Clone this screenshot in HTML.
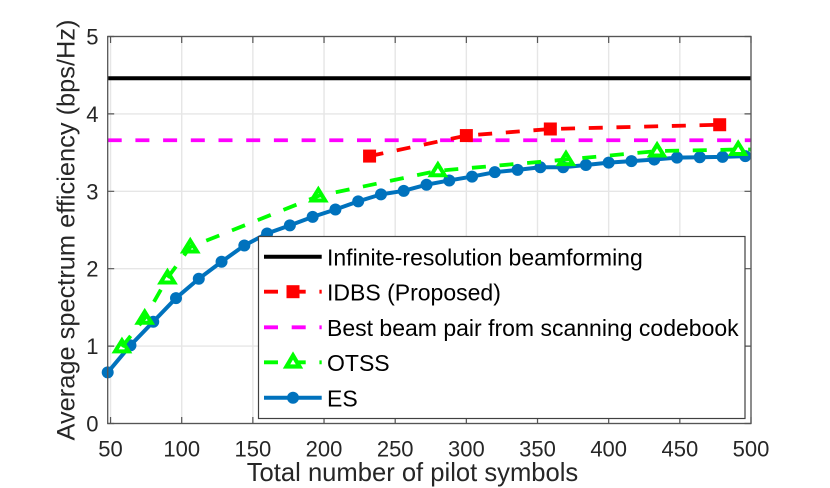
<!DOCTYPE html>
<html>
<head>
<meta charset="utf-8">
<style>
html,body{margin:0;padding:0;background:#fff;width:830px;height:488px;overflow:hidden}
svg{display:block}
text{font-family:"Liberation Sans",Arial,sans-serif;fill:#262626}
</style>
</head>
<body>
<svg id="chart" width="830" height="488" viewBox="0 0 830 488" xmlns="http://www.w3.org/2000/svg">
  <g id="grid"></g>
  <g id="series"></g>
  <g id="axes"></g>
  <text x="412.5" y="481" font-size="25.6" text-anchor="middle">Total number of pilot symbols</text>
  <text transform="translate(74.5,230) rotate(-90)" font-size="25.4" text-anchor="middle" style="fill:#262626">Average spectrum efficiency (bps/Hz)</text>
  <g>
    <rect x="258.5" y="236.5" width="486.5" height="182" fill="#fff" stroke="#404040" stroke-width="1.2"/>
    <g>
      <line x1="264" x2="321.7" y1="256.7" y2="256.7" stroke="#000" stroke-width="4"/>
      <text x="327" y="265.5" font-size="23" style="fill:#000">Infinite-resolution beamforming</text>
    </g>
    <g>
      <line x1="264" x2="321.7" y1="291.7" y2="291.7" stroke="#f00" stroke-width="3.8" stroke-dasharray="14 13.7"/>
      <rect x="286.5" y="285.2" width="13" height="13" fill="#f00"/>
      <text x="327" y="300.5" font-size="23" style="fill:#000">IDBS (Proposed)</text>
    </g>
    <g>
      <line x1="264" x2="321.7" y1="327.3" y2="327.3" stroke="#f0f" stroke-width="3.8" stroke-dasharray="14 13.7"/>
      <text x="327" y="336" font-size="23" style="fill:#000">Best beam pair from scanning codebook</text>
    </g>
    <g>
      <line x1="264" x2="321.7" y1="362.3" y2="362.3" stroke="#0f0" stroke-width="3.8" stroke-dasharray="14 13.7"/>
      <path d="M293 355.5 L299.5 366.5 L286.5 366.5 Z" fill="#fff" stroke="#0f0" stroke-width="4.2"/>
      <text x="327" y="371" font-size="23" style="fill:#000">OTSS</text>
    </g>
    <g>
      <line x1="264" x2="321.7" y1="397.7" y2="397.7" stroke="#0072bd" stroke-width="4"/>
      <circle cx="293" cy="397.7" r="6" fill="#0072bd"/>
      <text x="327" y="406.5" font-size="23" style="fill:#000">ES</text>
    </g>
  </g>
</svg>
<script>
var xTicks = [50,100,150,200,250,300,350,400,450,500];
var yTicks = [0,1,2,3,4,5];
var infiniteLevel = 4.46;
var bestBeamLevel = 3.66;
var esX = [48,64,80,96,112,128,144,160,176,192,208,224,240,256,272,288,304,320,336,352,368,384,400,416,432,448,464,480,496];
var esY = [0.66,1.01,1.315,1.62,1.87,2.09,2.30,2.455,2.56,2.67,2.765,2.87,2.96,3.006,3.085,3.14,3.19,3.247,3.277,3.31,3.31,3.34,3.37,3.39,3.41,3.435,3.44,3.445,3.455];
var idbsX = [232,300,359,478];
var idbsY = [3.455,3.72,3.805,3.86];
var otssX = [58,74,90,106,196,280,370,434,491];
var otssY = [0.99,1.36,1.88,2.28,2.94,3.265,3.41,3.52,3.54];
var xDomain = [48,500];
var yDomain = [0,5];

var NS = 'http://www.w3.org/2000/svg';
var plot = {left:107.7, right:751, top:36.5, bottom:423.5};
function sx(v){return plot.left+(v-xDomain[0])/(xDomain[1]-xDomain[0])*(plot.right-plot.left);}
function sy(v){return plot.bottom-(v-yDomain[0])/(yDomain[1]-yDomain[0])*(plot.bottom-plot.top);}
function mk(parent,tag,attrs){
  var el=document.createElementNS(NS,tag);
  for(var k in attrs){el.setAttribute(k,attrs[k]);}
  parent.appendChild(el);
  return el;
}
var grid=document.getElementById('grid');
var series=document.getElementById('series');
var axes=document.getElementById('axes');

xTicks.forEach(function(t){
  var el=mk(grid,'line',{x1:sx(t),x2:sx(t),y1:plot.top,y2:plot.bottom,stroke:'#e6e6e6','stroke-width':1.4});
  
  
});
yTicks.forEach(function(t){
  var el=mk(grid,'line',{x1:plot.left,x2:plot.right,y1:sy(t),y2:sy(t),stroke:'#e6e6e6','stroke-width':1.4});
  
  
});

function poly(xs,ys){return xs.map(function(x,i){return sx(x)+','+sy(ys[i]);}).join(' ');}

var black=mk(series,'line',{x1:plot.left,x2:plot.right,y1:sy(infiniteLevel),y2:sy(infiniteLevel),stroke:'#000','stroke-width':4});



var magenta=mk(series,'line',{x1:plot.left,x2:plot.right,y1:sy(bestBeamLevel),y2:sy(bestBeamLevel),stroke:'#f0f','stroke-width':3.8,'stroke-dasharray':'14 13.7'});



var esLine=mk(series,'polyline',{points:poly(esX,esY),fill:'none',stroke:'#0072bd','stroke-width':4});


esX.forEach(function(x,i){
  var c=mk(series,'circle',{cx:sx(x),cy:sy(esY[i]),r:6,fill:'#0072bd'});
  
  
});

var otssLine=mk(series,'polyline',{points:poly(otssX,otssY)+' '+plot.right+','+sy(otssY[otssY.length-1]),fill:'none',stroke:'#0f0','stroke-width':3.8,'stroke-dasharray':'14 13.7'});


otssX.forEach(function(x,i){
  var px=sx(x),py=sy(otssY[i]);
  var t=mk(series,'path',{d:'M'+px+' '+(py-6.5)+' L'+(px+6.8)+' '+(py+4.5)+' L'+(px-6.8)+' '+(py+4.5)+' Z',fill:'none',stroke:'#0f0','stroke-width':4});
  
  
});

var idbsLine=mk(series,'polyline',{points:poly(idbsX,idbsY),fill:'none',stroke:'#f00','stroke-width':3.8,'stroke-dasharray':'14 13.7'});


idbsX.forEach(function(x,i){
  var r=mk(series,'rect',{x:sx(x)-6.5,y:sy(idbsY[i])-6.5,width:13,height:13,fill:'#f00'});
  
  
});

var frame=mk(axes,'rect',{x:plot.left,y:plot.top,width:plot.right-plot.left,height:plot.bottom-plot.top,fill:'none',stroke:'#555','stroke-width':1.3});



xTicks.forEach(function(t){
  var x=sx(t);
  var a=mk(axes,'path',{d:'M'+x+' '+plot.bottom+' v-6.5 M'+x+' '+plot.top+' v6.5',stroke:'#555','stroke-width':1.2,fill:'none'});
  
  
  var l=mk(axes,'text',{x:x,y:456.7,'font-size':22,'text-anchor':'middle'});
  l.textContent=t;
  
  
});
yTicks.forEach(function(t){
  var y=sy(t);
  var a=mk(axes,'path',{d:'M'+plot.left+' '+y+' h6.5 M'+plot.right+' '+y+' h-6.5',stroke:'#555','stroke-width':1.2,fill:'none'});
  
  
  var l=mk(axes,'text',{x:98.5,y:y+8,'font-size':22,'text-anchor':'end'});
  l.textContent=t;
  
  
});
</script>
</body>
</html>
